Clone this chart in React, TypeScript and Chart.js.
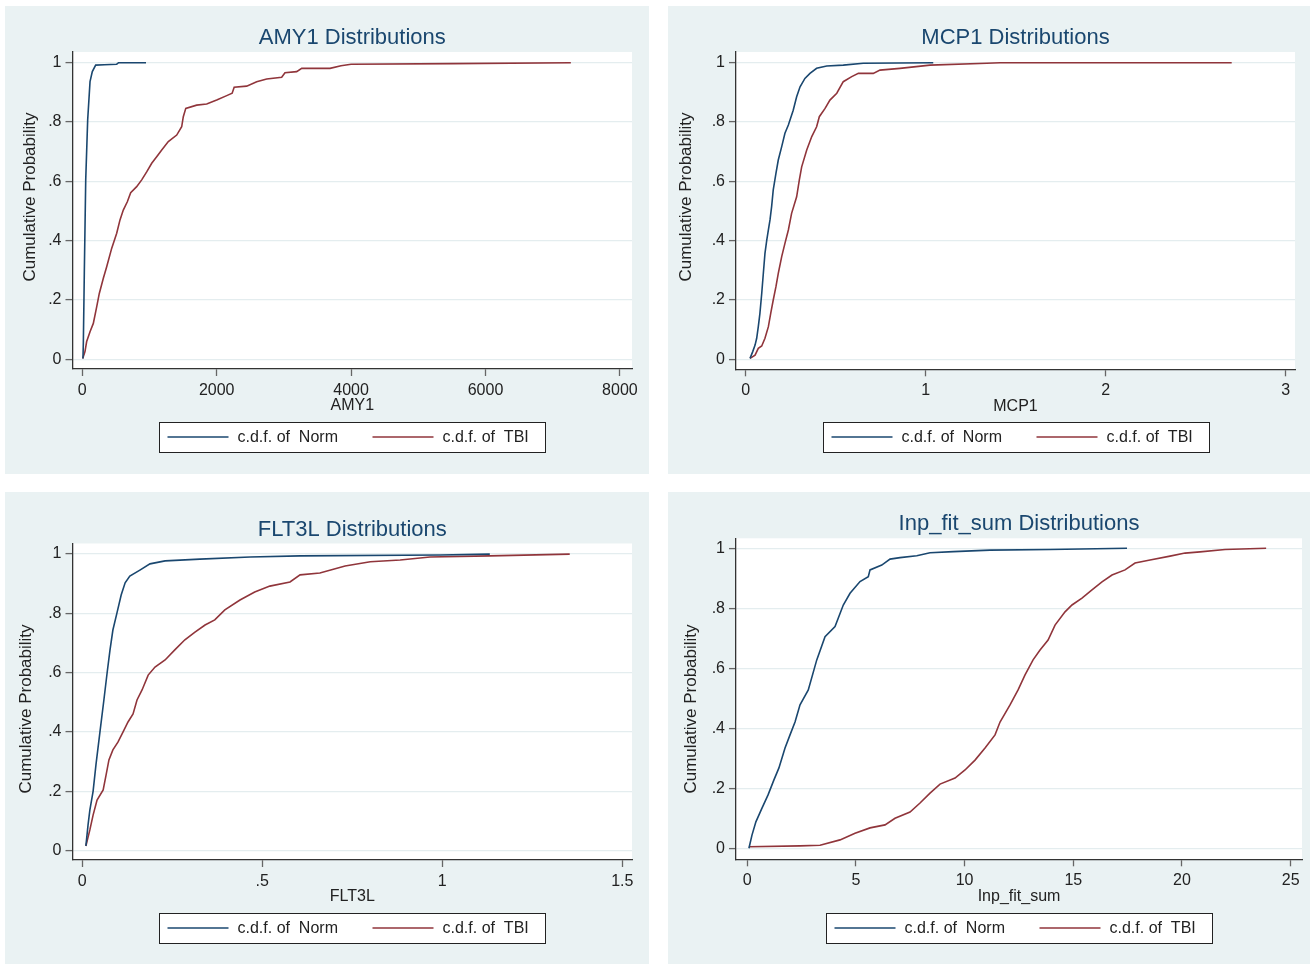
import React, { useEffect, useRef } from 'react';
import { Chart, registerables } from 'chart.js';

Chart.register(...registerables);

// ---------- shared labels ----------
const seriesLabels = ['c.d.f. of  Norm', 'c.d.f. of  TBI'];
const yAxisTitle = 'Cumulative Probability';
const yTickValues = [0, 0.2, 0.4, 0.6, 0.8, 1];
const yTickLabels = ['0', '.2', '.4', '.6', '.8', '1'];

// ---------- AMY1 ----------
const amy1XTicks = [0, 2000, 4000, 6000, 8000];
const amy1XTickLabels = ['0', '2000', '4000', '6000', '8000'];
const amy1NormX = [10, 16, 30, 51, 80, 115, 149, 199, 330, 512, 540, 948];
const amy1NormY = [0.003, 0.06, 0.29, 0.605, 0.807, 0.936, 0.97, 0.992, 0.993, 0.995, 1, 1];
const amy1TbiX = [6, 40, 65, 115, 164, 214, 253, 313, 363, 437, 512, 561, 610, 670, 720, 809, 884, 958, 1033, 1107, 1182, 1280, 1405, 1479, 1503, 1540, 1702, 1851, 2000, 2149, 2230, 2260, 2446, 2595, 2744, 2967, 3016, 3190, 3265, 3686, 3850, 4000, 5500, 7270];
const amy1TbiY = [0.003, 0.026, 0.06, 0.093, 0.121, 0.177, 0.222, 0.273, 0.312, 0.374, 0.425, 0.47, 0.503, 0.531, 0.562, 0.582, 0.605, 0.632, 0.661, 0.683, 0.706, 0.734, 0.756, 0.784, 0.818, 0.846, 0.857, 0.861, 0.874, 0.889, 0.897, 0.917, 0.921, 0.936, 0.945, 0.951, 0.966, 0.97, 0.981, 0.981, 0.99, 0.995, 0.997, 1];

// ---------- MCP1 ----------
const mcp1XTicks = [0, 1, 2, 3];
const mcp1XTickLabels = ['0', '1', '2', '3'];
const mcp1NormX = [0.024, 0.039, 0.052, 0.061, 0.07, 0.079, 0.089, 0.098, 0.107, 0.117, 0.126, 0.135, 0.144, 0.153, 0.168, 0.181, 0.2, 0.218, 0.237, 0.264, 0.283, 0.302, 0.329, 0.357, 0.394, 0.45, 0.542, 0.653, 1.042];
const mcp1NormY = [0.003, 0.026, 0.048, 0.071, 0.11, 0.155, 0.222, 0.29, 0.357, 0.402, 0.436, 0.47, 0.515, 0.571, 0.627, 0.672, 0.717, 0.762, 0.79, 0.84, 0.885, 0.919, 0.947, 0.964, 0.981, 0.989, 0.992, 0.998, 1];
const mcp1TbiX = [0.024, 0.052, 0.07, 0.089, 0.107, 0.126, 0.139, 0.153, 0.168, 0.181, 0.2, 0.218, 0.237, 0.255, 0.283, 0.298, 0.311, 0.339, 0.367, 0.394, 0.409, 0.441, 0.468, 0.506, 0.542, 0.589, 0.626, 0.709, 0.746, 0.857, 1.024, 1.339, 1.413, 2.7];
const mcp1TbiY = [0.003, 0.014, 0.037, 0.045, 0.071, 0.11, 0.155, 0.2, 0.245, 0.29, 0.346, 0.391, 0.436, 0.492, 0.548, 0.605, 0.649, 0.706, 0.751, 0.784, 0.818, 0.846, 0.874, 0.897, 0.936, 0.953, 0.964, 0.964, 0.975, 0.981, 0.992, 0.998, 1, 1];

// ---------- FLT3L ----------
const flt3lXTicks = [0, 0.5, 1, 1.5];
const flt3lXTickLabels = ['0', '.5', '1', '1.5'];
const flt3lNormX = [0.01, 0.016, 0.021, 0.03, 0.038, 0.049, 0.06, 0.069, 0.077, 0.085, 0.096, 0.108, 0.119, 0.132, 0.16, 0.188, 0.23, 0.327, 0.466, 0.605, 0.994, 1.132];
const flt3lNormY = [0.016, 0.087, 0.137, 0.2, 0.29, 0.4, 0.508, 0.6, 0.677, 0.744, 0.8, 0.862, 0.903, 0.926, 0.946, 0.967, 0.977, 0.983, 0.99, 0.994, 0.997, 1];
const flt3lTbiX = [0.01, 0.021, 0.03, 0.041, 0.058, 0.066, 0.074, 0.085, 0.099, 0.113, 0.127, 0.141, 0.152, 0.166, 0.183, 0.202, 0.23, 0.257, 0.285, 0.313, 0.341, 0.368, 0.396, 0.438, 0.479, 0.521, 0.577, 0.605, 0.66, 0.73, 0.8, 0.883, 0.966, 1.132, 1.354];
const flt3lTbiY = [0.016, 0.07, 0.12, 0.171, 0.205, 0.255, 0.306, 0.34, 0.366, 0.4, 0.434, 0.461, 0.508, 0.542, 0.592, 0.619, 0.643, 0.677, 0.711, 0.737, 0.761, 0.778, 0.812, 0.845, 0.872, 0.892, 0.906, 0.93, 0.936, 0.96, 0.974, 0.98, 0.99, 0.994, 1];

// ---------- Inp_fit_sum ----------
const inpXTicks = [0, 5, 10, 15, 20, 25];
const inpXTickLabels = ['0', '5', '10', '15', '20', '25'];
const inpNormX = [0.08, 0.22, 0.4, 0.68, 0.96, 1.23, 1.46, 1.74, 1.97, 2.2, 2.43, 2.81, 3.2, 3.58, 4.04, 4.42, 4.73, 5.19, 5.57, 5.65, 6.19, 6.57, 7.03, 7.8, 8.41, 9.48, 11.17, 13.93, 17.47];
const inpNormY = [0, 0.044, 0.088, 0.134, 0.178, 0.228, 0.268, 0.334, 0.378, 0.421, 0.478, 0.528, 0.628, 0.705, 0.739, 0.811, 0.85, 0.889, 0.905, 0.928, 0.944, 0.964, 0.969, 0.975, 0.985, 0.989, 0.994, 0.996, 1];
const inpTbiX = [0.08, 2.43, 3.35, 4.27, 4.96, 5.65, 6.34, 6.8, 7.49, 7.95, 8.41, 8.87, 9.56, 10.02, 10.48, 10.94, 11.4, 11.63, 12.09, 12.46, 12.78, 13.15, 13.47, 13.84, 14.16, 14.62, 14.94, 15.4, 15.86, 16.32, 16.78, 17.38, 17.84, 18.53, 19.45, 20.14, 20.83, 21.98, 23.87];
const inpTbiY = [0.005, 0.008, 0.01, 0.028, 0.05, 0.068, 0.078, 0.1, 0.121, 0.151, 0.184, 0.214, 0.234, 0.261, 0.294, 0.334, 0.378, 0.421, 0.478, 0.528, 0.578, 0.628, 0.661, 0.694, 0.744, 0.788, 0.811, 0.834, 0.861, 0.888, 0.911, 0.928, 0.951, 0.961, 0.974, 0.984, 0.988, 0.996, 1];

// ---------- styling ----------
const FONT = '"Liberation Sans", Arial, Helvetica, sans-serif';
const PANEL_BG = '#eaf2f3';
const GRID = '#e4edef';
const TITLE_COLOR = '#1a476f';
const TEXT = '#222222';
const NORM_COLOR = '#1a476f';
const TBI_COLOR = '#90353b';
const X_AXIS_H = 47;

type Panel = {
  title: string; xTitle: string;
  normX: number[]; normY: number[]; tbiX: number[]; tbiY: number[];
  xTicks: number[]; xTickLabels: string[];
  box: { x: number; y: number; w: number; h: number };
  plot: { l: number; t: number; r: number; b: number };
  xRange: [number, number]; yRange: [number, number];
  titleY: number; legendY: number; yTitleX: number; yTitleY: number;
};

const panels: Panel[] = [
  {
    title: 'AMY1 Distributions', xTitle: 'AMY1',
    normX: amy1NormX, normY: amy1NormY, tbiX: amy1TbiX, tbiY: amy1TbiY,
    xTicks: amy1XTicks, xTickLabels: amy1XTickLabels,
    box: { x: 5, y: 6, w: 644, h: 468 },
    plot: { l: 72.5, t: 52, r: 632, b: 369 },
    xRange: [-145.8, 8180], yRange: [-0.0327, 1.0361],
    titleY: 38, legendY: 437, yTitleX: 30, yTitleY: 197,
  },
  {
    title: 'MCP1 Distributions', xTitle: 'MCP1',
    normX: mcp1NormX, normY: mcp1NormY, tbiX: mcp1TbiX, tbiY: mcp1TbiY,
    xTicks: mcp1XTicks, xTickLabels: mcp1XTickLabels,
    box: { x: 668, y: 6, w: 642, h: 468 },
    plot: { l: 736, t: 52, r: 1295, b: 369.3 },
    xRange: [-0.0539, 3.0517], yRange: [-0.0337, 1.0361],
    titleY: 38, legendY: 437, yTitleX: 686, yTitleY: 197,
  },
  {
    title: 'FLT3L Distributions', xTitle: 'FLT3L',
    normX: flt3lNormX, normY: flt3lNormY, tbiX: flt3lTbiX, tbiY: flt3lTbiY,
    xTicks: flt3lXTicks, xTickLabels: flt3lXTickLabels,
    box: { x: 5, y: 492, w: 644, h: 472 },
    plot: { l: 72.5, t: 543.5, r: 632, b: 860 },
    xRange: [-0.0272, 1.527], yRange: [-0.0314, 1.0357],
    titleY: 530, legendY: 928, yTitleX: 26, yTitleY: 709,
  },
  {
    title: 'Inp_fit_sum Distributions', xTitle: 'Inp_fit_sum',
    normX: inpNormX, normY: inpNormY, tbiX: inpTbiX, tbiY: inpTbiY,
    xTicks: inpXTicks, xTickLabels: inpXTickLabels,
    box: { x: 668, y: 492, w: 642, h: 472 },
    plot: { l: 736, t: 538.3, r: 1302, b: 859.3 },
    xRange: [-0.515, 25.52], yRange: [-0.0367, 1.0333],
    titleY: 524, legendY: 928, yTitleX: 691, yTitleY: 709,
  },
];

const decorPlugin = {
  id: 'stataDecor',
  beforeDraw(chart: any) {
    const { ctx, chartArea: a, width, height } = chart;
    ctx.save();
    ctx.fillStyle = PANEL_BG;
    ctx.fillRect(0, 0, width, height);
    ctx.fillStyle = '#ffffff';
    ctx.fillRect(a.left, a.top, a.right - a.left, a.bottom - a.top);
    ctx.restore();
  },
  afterDraw(chart: any, _args: any, opts: any) {
    const { ctx, chartArea: a } = chart;
    const cx = (a.left + a.right) / 2;
    ctx.save();
    // title
    ctx.font = `22px ${FONT}`;
    ctx.fillStyle = TITLE_COLOR;
    ctx.textAlign = 'center';
    ctx.textBaseline = 'middle';
    ctx.fillText(opts.title, cx, opts.titleY);
    // y axis title
    ctx.save();
    ctx.translate(opts.yTitleX, opts.yTitleY);
    ctx.rotate(-Math.PI / 2);
    ctx.font = `17px ${FONT}`;
    ctx.fillStyle = TEXT;
    ctx.fillText(opts.yTitle, 0, 0);
    ctx.restore();
    // legend
    const boxW = 386;
    const boxH = 30;
    const bx = Math.round(cx - boxW / 2) + 0.5;
    const by = Math.round(opts.legendY - boxH / 2) + 0.5;
    ctx.fillStyle = '#ffffff';
    ctx.fillRect(bx, by, boxW, boxH);
    ctx.strokeStyle = '#222222';
    ctx.lineWidth = 1;
    ctx.strokeRect(bx, by, boxW, boxH);
    ctx.font = `16px ${FONT}`;
    ctx.textAlign = 'left';
    chart.data.datasets.forEach((ds: any, i: number) => {
      const lx = bx + 8 + i * 205;
      ctx.strokeStyle = ds.borderColor;
      ctx.lineWidth = 1.6;
      ctx.beginPath();
      ctx.moveTo(lx, opts.legendY);
      ctx.lineTo(lx + 61, opts.legendY);
      ctx.stroke();
      ctx.fillStyle = TEXT;
      ctx.fillText(ds.label, lx + 70, opts.legendY + 1);
    });
    ctx.restore();
  },
};

function toPoints(xs: number[], ys: number[]) {
  return xs.map((x, i) => ({ x, y: ys[i] }));
}

function PanelChart({ p }: { p: Panel }) {
  const ref = useRef<HTMLCanvasElement | null>(null);
  useEffect(() => {
    if (!ref.current) return;
    const yAxisW = p.plot.l - p.box.x;
    const chart = new Chart(ref.current, {
      type: 'scatter',
      data: {
        datasets: [
          {
            label: seriesLabels[0],
            data: toPoints(p.normX, p.normY),
            showLine: true, borderColor: NORM_COLOR, backgroundColor: NORM_COLOR,
            borderWidth: 1.6, pointRadius: 0, pointHoverRadius: 0, tension: 0,
          },
          {
            label: seriesLabels[1],
            data: toPoints(p.tbiX, p.tbiY),
            showLine: true, borderColor: TBI_COLOR, backgroundColor: TBI_COLOR,
            borderWidth: 1.6, pointRadius: 0, pointHoverRadius: 0, tension: 0,
          },
        ],
      },
      options: {
        animation: false,
        responsive: false,
        devicePixelRatio: 1,
        events: [],
        layout: {
          padding: {
            top: p.plot.t - p.box.y,
            left: 0,
            right: p.box.x + p.box.w - p.plot.r,
            bottom: p.box.y + p.box.h - p.plot.b - X_AXIS_H,
          },
        },
        plugins: {
          legend: { display: false },
          title: { display: false },
          tooltip: { enabled: false },
          stataDecor: {
            title: p.title,
            titleY: p.titleY - p.box.y,
            legendY: p.legendY - p.box.y,
            yTitle: yAxisTitle,
            yTitleX: p.yTitleX - p.box.x,
            yTitleY: p.yTitleY - p.box.y,
          },
        } as any,
        scales: {
          x: {
            type: 'linear',
            min: p.xRange[0], max: p.xRange[1],
            afterBuildTicks: (s: any) => { s.ticks = p.xTicks.map((v) => ({ value: v })); },
            afterFit: (s: any) => { s.height = X_AXIS_H; },
            ticks: {
              autoSkip: false, maxRotation: 0, padding: 5, color: TEXT,
              font: { family: FONT, size: 16 },
              callback: (_v: any, i: number) => p.xTickLabels[i],
            },
            grid: { drawOnChartArea: false, tickLength: 7, tickColor: '#666666', tickWidth: 1.3 },
            border: { display: true, color: '#333333', width: 1.3 },
            title: {
              display: true, text: p.xTitle, color: TEXT,
              font: { family: FONT, size: 16 }, padding: { top: 0, bottom: 0.6 },
            },
          },
          y: {
            type: 'linear',
            min: p.yRange[0], max: p.yRange[1],
            afterBuildTicks: (s: any) => { s.ticks = yTickValues.map((v) => ({ value: v })); },
            afterFit: (s: any) => { s.width = yAxisW; },
            ticks: {
              autoSkip: false, padding: 4, color: TEXT,
              font: { family: FONT, size: 16 },
              callback: (_v: any, i: number) => yTickLabels[i],
            },
            grid: { color: GRID, lineWidth: 1.2, tickLength: 7, tickColor: '#666666', tickWidth: 1.3 },
            border: { display: true, color: '#333333', width: 1.3 },
            title: { display: false },
          },
        },
      },
      plugins: [decorPlugin as any],
    });
    return () => chart.destroy();
  }, [p]);
  return (
    <canvas
      ref={ref}
      width={p.box.w}
      height={p.box.h}
      style={{ position: 'absolute', left: p.box.x, top: p.box.y, width: p.box.w, height: p.box.h }}
    />
  );
}

export default function App() {
  return (
    <div style={{ position: 'absolute', left: 0, top: 0, width: 1314, height: 964, background: '#ffffff', overflow: 'hidden' }}>
      {panels.map((p) => (
        <PanelChart key={p.title} p={p} />
      ))}
    </div>
  );
}
